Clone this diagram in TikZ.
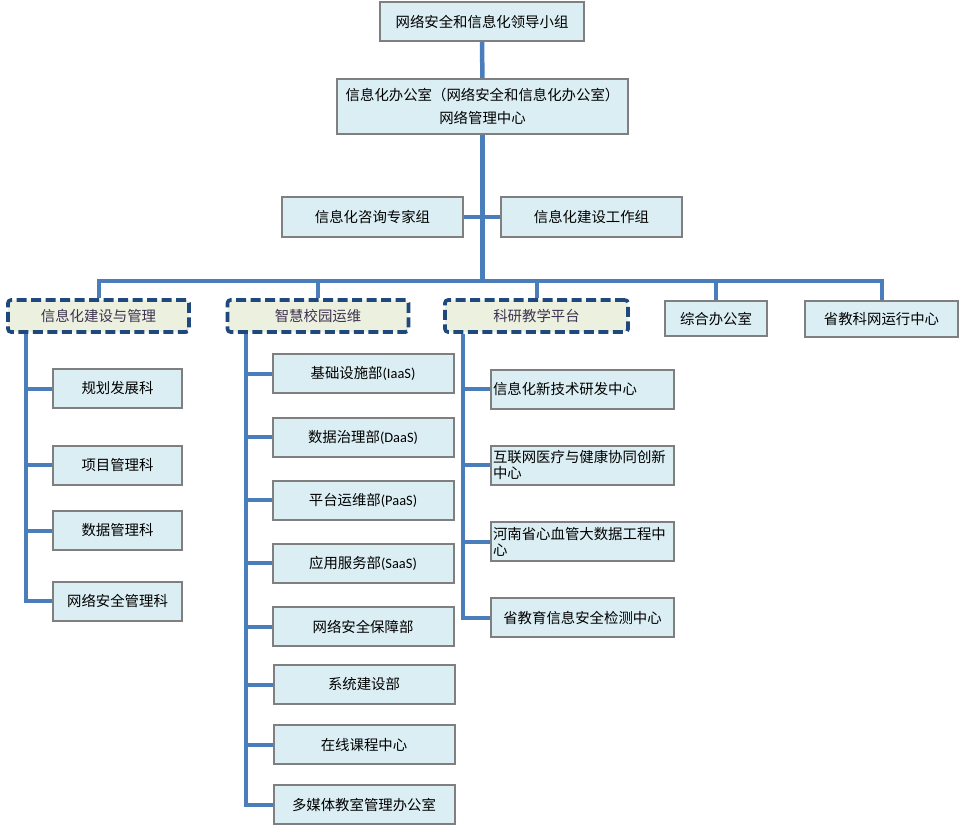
\documentclass[tikz,border=0pt]{standalone}
\usepackage{fontspec}
\setmainfont{Noto Sans CJK SC}
\newfontfamily\latinfont{Carlito}
\usetikzlibrary{calc,backgrounds}
\definecolor{boxfill}{HTML}{DBEEF4}
\definecolor{boxline}{HTML}{7F7F7F}
\definecolor{linkblue}{HTML}{4A7EBB}
\definecolor{groupfill}{HTML}{EBF1DE}
\definecolor{groupline}{HTML}{1F487C}
\definecolor{grouptext}{HTML}{3F3151}
\tikzset{
  unit/.style={draw=boxline, fill=boxfill, line width=2pt, inner sep=1pt,
    font=\fontsize{14.4}{16}\selectfont},
  group/.style={draw=groupline, fill=groupfill, line width=3.6pt,
    dash pattern=on 10pt off 4.5pt, rounded corners=3pt, text=grouptext,
    minimum width=181, minimum height=32, font=\fontsize{14.4}{16}\selectfont},
  link/.style={draw=linkblue, line width=4pt},
  kid/.style={unit, minimum width=129, minimum height=39},
  dept/.style={unit, minimum width=181, minimum height=39},
  lab/.style={unit, minimum width=183, minimum height=39, text width=179,
    align=left}
}
\begin{document}
\begin{tikzpicture}[x=1pt,y=-1pt]
  \useasboundingbox (0,0) rectangle (961,827);
  % 领导层
  \node[unit, minimum width=204, minimum height=39] (lead) at (482,21.5) {网络安全和信息化领导小组};
  \node[unit, minimum width=291, minimum height=55, align=center] (office) at (482.5,106.5)
    {信息化办公室（网络安全和信息化办公室）\\[7pt]网络管理中心};
  \node[unit, minimum width=181, minimum height=40] (expert) at (372.5,217) {信息化咨询专家组};
  \node[unit, minimum width=181, minimum height=40] (work) at (591.5,217) {信息化建设工作组};
  % 二级部门
  \node[group] (g1) at (98.5,316) {信息化建设与管理};
  \node[group] (g2) at (318,316) {智慧校园运维};
  \node[group, minimum width=183] (g3) at (536.5,316) {科研教学平台};
  \node[unit, minimum width=102, minimum height=35] (admin) at (716,318.5) {综合办公室};
  \node[unit, minimum width=153, minimum height=36] (net) at (881.5,319) {省教科网运行中心};
  % 信息化建设与管理
  \node[kid] (k1) at (117.5,388.5) {规划发展科};
  \node[kid] (k2) at (117.5,465) {项目管理科};
  \node[kid] (k3) at (117.5,530.5) {数据管理科};
  \node[kid] (k4) at (117.5,601) {网络安全管理科};
  % 智慧校园运维
  \node[dept] (m1) at (363,373.5) {基础设施部{\latinfont(IaaS)}};
  \node[dept] (m2) at (363,437) {数据治理部{\latinfont(DaaS)}};
  \node[dept] (m3) at (363,500) {平台运维部{\latinfont(PaaS)}};
  \node[dept] (m4) at (363,563) {应用服务部{\latinfont(SaaS)}};
  \node[dept] (m5) at (363,626.5) {网络安全保障部};
  \node[dept] (m6) at (364,684.5) {系统建设部};
  \node[dept] (m7) at (364,744.5) {在线课程中心};
  \node[dept] (m8) at (364,804.5) {多媒体教室管理办公室};
  % 科研教学平台
  \node[lab] (r1) at (582.5,389) {信息化新技术研发中心};
  \node[lab] (r2) at (582.5,465) {互联网医疗与健康协同创新\\中心};
  \node[lab] (r3) at (582.5,541.5) {河南省心血管大数据工程中\\心};
  \node[lab, align=center] (r4) at (582.5,617.5) {省教育信息安全检测中心};
  % 连线
  \coordinate (bar) at (482.5,281);
  \coordinate (s1) at ($(g1.south west)+(20,0)$);
  \coordinate (s2) at ($(g2.south west)+(20,0)$);
  \coordinate (s3) at ($(g3.south west)+(20,0)$);
  \begin{pgfonlayer}{background}
    \draw[link, line width=4.5pt] (lead) -- (office);
    \draw[link, line width=4.5pt] (office.south) -- (bar);
    \draw[link] (expert) -- (work);
    \draw[link] (g1.north) |- (bar) -| (net.north);
    \foreach \n in {g2,g3,admin}
      \draw[link] (\n.north) -- (\n.north |- bar);
    \foreach \n in {k1,k2,k3,k4}
      \draw[link] (\n.west) -| (s1);
    \foreach \n in {m1,m2,m3,m4,m5,m6,m7,m8}
      \draw[link] (\n.west) -| (s2);
    \foreach \n in {r1,r2,r3,r4}
      \draw[link] (\n.west) -| (s3);
  \end{pgfonlayer}
\end{tikzpicture}
\end{document}
